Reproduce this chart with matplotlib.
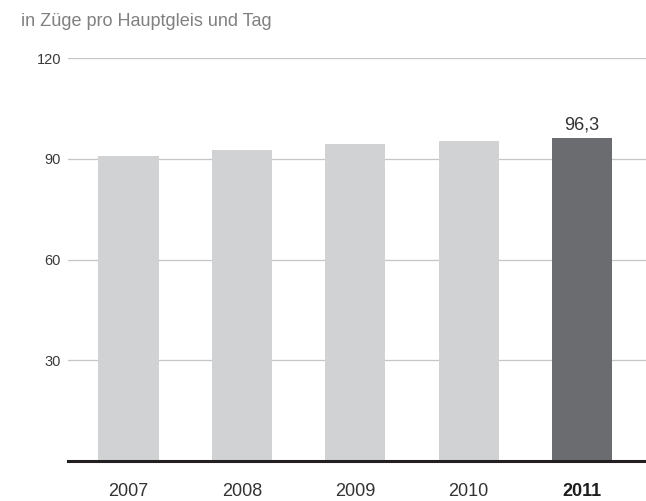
import matplotlib
matplotlib.use("Agg")
import matplotlib.pyplot as plt

years = ["2007", "2008", "2009", "2010", "2011"]
values = [90.7, 92.6, 94.3, 95.4, 96.3]
y_ticks = [30, 60, 90, 120]

light = "#d1d2d4"
dark = "#6b6c70"
colors = [light, light, light, light, dark]

plt.rcParams["font.family"] = ["Liberation Sans", "DejaVu Sans"]

fig = plt.figure(figsize=(6.46, 5.01), dpi=100)
ax = fig.add_axes([0.105, 0.08, 0.895, 0.804])

x = list(range(len(years)))
ax.bar(x, values, width=0.53, color=colors, zorder=2)

ax.set_ylim(0, 120)
ax.set_xlim(-0.535, 4.565)
ax.set_yticks(y_ticks)
ax.set_yticklabels([str(t) for t in y_ticks], fontsize=10.5, color="#3a3a3a")
ax.yaxis.grid(True, color="#c6c6c6", linewidth=0.9, zorder=0)
ax.tick_params(axis="y", length=0, pad=5)

ax.set_xticks(x)
ax.set_xticklabels(years, fontsize=13, color="#333333")
ax.get_xticklabels()[-1].set_fontweight("bold")
ax.get_xticklabels()[-1].set_color("#1e1e1e")
ax.tick_params(axis="x", length=0, pad=16)

for side in ["top", "right", "left"]:
    ax.spines[side].set_visible(False)
ax.spines["bottom"].set_color("#231f20")
ax.spines["bottom"].set_linewidth(2.2)
ax.spines["bottom"].set_zorder(3)

ax.text(x[-1], values[-1] + 2.5, "96,3", ha="center", va="baseline",
        fontsize=13, color="#333333")

fig.text(21 / 646, 1 - 25.7 / 501, "in Züge pro Hauptgleis und Tag",
         ha="left", va="baseline", fontsize=13, color="#808080")

fig.savefig("out.png", dpi=100)
